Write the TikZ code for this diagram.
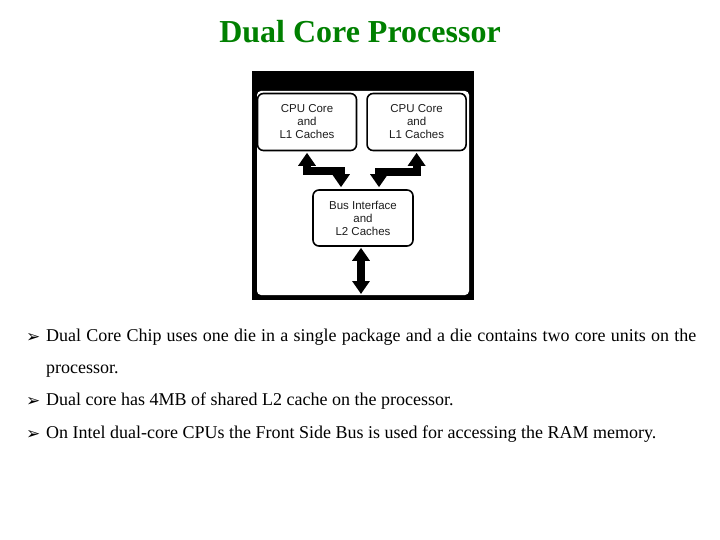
\documentclass[tikz,border=0pt]{standalone}
\usepackage{fontspec}
\setmainfont{Liberation Serif}
\setsansfont{Liberation Sans}
\newfontfamily\symfont{DejaVu Sans}
\usetikzlibrary{arrows.meta,positioning}
\definecolor{titlegreen}{HTML}{008000}
\definecolor{unittext}{HTML}{1E1E1E}
\tikzset{
  unit/.style={
    draw=black,
    line width=1.6pt,
    rounded corners=6pt,
    fill=white,
    minimum width=99pt,
    minimum height=57pt,
    align=center,
    text=unittext,
    font=\sffamily\fontsize{11.5}{13}\selectfont
  },
  bus/.style={line width=8pt,{Triangle[width=17pt,length=13pt]}-{Triangle[width=17pt,length=13pt]}},
  arrowmark/.style={font=\symfont\fontsize{17}{17}\selectfont,anchor=base west,inner sep=0pt},
  point/.style={text width=650pt,align=justify,anchor=base west,inner sep=0pt,
    font=\fontsize{18}{32}\selectfont}
}

\begin{document}
\begin{tikzpicture}[x=1pt,y=-1pt]
  \useasboundingbox (0,0) rectangle (720,540);

  \node[font=\bfseries\fontsize{32}{36}\selectfont,text=titlegreen] (title) at (360,32) {Dual Core Processor};

  % processor die
  \fill[black] (252,71) rectangle (474,300);
  \fill[white,rounded corners=4pt] (257,91) rectangle (469,295);

  \node[unit] (core1) at (307,122) {CPU Core\\and\\L1 Caches};
  \node[unit, right=9pt of core1] (core2) {CPU Core\\and\\L1 Caches};
  \node[unit, minimum width=100pt, minimum height=56pt] (l2) at (363,218) {Bus Interface\\and\\L2 Caches};
  \coordinate (fsb) at (361,294);

  \draw[bus,shorten <=1.5pt,shorten >=2pt] (core1.south) -- ++(0,20) -| ([xshift=-22pt]l2.north);
  \draw[bus,shorten <=1.5pt,shorten >=2pt] (core2.south) -- ++(0,21) -| ([xshift=16pt]l2.north);
  \draw[bus,shorten <=1pt] ([xshift=-2pt]l2.south) -- (fsb);

  % bullet points
  \node[arrowmark] (m1) at (26,342) {➢};
  \node[point] (p1) at (46,341) {Dual Core Chip uses one die in a single package and a die contains two core units on the processor.};
  \node[arrowmark] (m2) at (26,406) {➢};
  \node[point] (p2) at (46,405) {Dual core has 4MB of shared L2 cache on the processor.};
  \node[arrowmark] (m3) at (26,439) {➢};
  \node[point] (p3) at (46,438) {On Intel dual-core CPUs the Front Side Bus is used for accessing the RAM memory.};
\end{tikzpicture}
\end{document}
